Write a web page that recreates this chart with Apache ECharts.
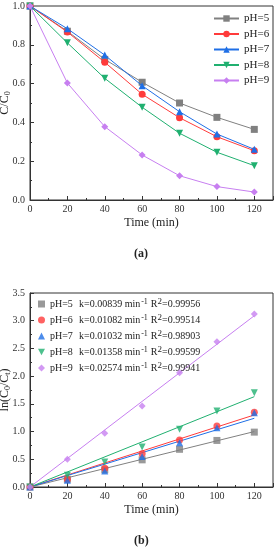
<!DOCTYPE html>
<html><head><meta charset="utf-8">
<script src="https://cdn.jsdelivr.net/npm/echarts@6/dist/echarts.min.js"></script>
<style>html,body{margin:0;padding:0;background:#fff}#c{width:278px;height:550px}</style>
</head><body><div id="c"></div>
<script>
const times = [0, 20, 40, 60, 80, 100, 120];
const phNames = ['pH=5', 'pH=6', 'pH=7', 'pH=8', 'pH=9'];
// panel (a) C/C0
const ratio5 = [1, 0.87, 0.725, 0.607, 0.50, 0.426, 0.364];
const ratio6 = [1, 0.866, 0.71, 0.545, 0.424, 0.326, 0.254];
const ratio7 = [1, 0.883, 0.747, 0.589, 0.455, 0.34, 0.261];
const ratio8 = [1, 0.81, 0.627, 0.478, 0.344, 0.246, 0.177];
const ratio9 = [1, 0.603, 0.378, 0.232, 0.125, 0.069, 0.041];
// panel (b) ln(C0/Ct)
const ln5 = [0, 0.14, 0.31, 0.49, 0.68, 0.84, 0.99];
const ln6 = [0, 0.14, 0.34, 0.60, 0.85, 1.10, 1.35];
const ln7 = [0, 0.12, 0.29, 0.55, 0.80, 1.07, 1.34];
const ln8 = [0, 0.21, 0.45, 0.72, 1.04, 1.37, 1.70];
const ln9 = [0, 0.50, 0.97, 1.46, 2.06, 2.62, 3.12];
// fitted lines (start at 0,0, end at t=120)
const fitStart = [0, 0, 0, 0, 0];
const fitEnd = [1.00, 1.30, 1.24, 1.63, 3.09];
const kValues = ['0.00839', '0.01082', '0.01032', '0.01358', '0.02574'];
const r2Values = ['0.99956', '0.99514', '0.98903', '0.99599', '0.99941'];

const colors = ['#808080', '#ff3b3b', '#1f6fe6', '#20b070', '#c77ff0'];
const symbols = ['rect', 'circle', 'triangle', 'path://M0,0 L10,0 L5,9 Z', 'diamond'];
const ratios = [ratio5, ratio6, ratio7, ratio8, ratio9];
const lns = [ln5, ln6, ln7, ln8, ln9];
const FONT = 'Liberation Serif';
const AX = '#333';

function xAxis(idx) {
  return {
    gridIndex: idx, type: 'value', min: 0, max: 130, interval: 20,
    name: 'Time (min)', nameLocation: 'middle', nameGap: 17, nameMoveOverlap: false,
    nameTextStyle: { fontFamily: FONT, fontSize: 12, color: '#222' },
    axisLine: { show: true, lineStyle: { color: AX } },
    axisTick: { show: true, inside: true, length: 4, lineStyle: { color: AX } },
    minorTick: { show: true, splitNumber: 2, length: 2, lineStyle: { color: AX } },
    axisLabel: { fontFamily: FONT, fontSize: 10, color: '#333', margin: 4, showMaxLabel: false },
    splitLine: { show: false }
  };
}
function yAxis(idx, max, interval, nameRich) {
  return {
    gridIndex: idx, type: 'value', min: 0, max: max, interval: interval,
    name: nameRich, nameLocation: 'middle', nameGap: 18, nameRotate: 90, nameMoveOverlap: false,
    nameTextStyle: { fontFamily: FONT, fontSize: 12, color: '#222',
      rich: { n: { fontFamily: FONT, fontSize: 12, color: '#222' },
              s: { fontFamily: FONT, fontSize: 8, color: '#222', padding: [6, 0, 0, 0] } } },
    axisLine: { show: true, lineStyle: { color: AX } },
    axisTick: { show: true, inside: true, length: 4, lineStyle: { color: AX } },
    minorTick: { show: true, splitNumber: 2, length: 2, lineStyle: { color: AX } },
    axisLabel: { fontFamily: FONT, fontSize: 10, color: '#333', margin: 5, formatter: v => v.toFixed(1) },
    splitLine: { show: false }
  };
}

const series = [];
phNames.forEach((n, i) => {
  series.push({
    name: n, type: 'line', xAxisIndex: 0, yAxisIndex: 0,
    data: times.map((t, j) => [t, ratios[i][j]]),
    symbol: symbols[i], symbolSize: 7, showSymbol: true,
    lineStyle: { color: colors[i], width: 1 }, itemStyle: { color: colors[i] }, z: 2 + i
  });
});
phNames.forEach((n, i) => {
  series.push({
    name: 'fit' + i, type: 'line', xAxisIndex: 1, yAxisIndex: 1,
    data: [[times[0], fitStart[i]], [times[times.length - 1], fitEnd[i]]],
    showSymbol: false, symbol: 'none', lineStyle: { color: colors[i], width: 1 }, silent: true
  });
  series.push({
    name: 'b' + n, type: 'scatter', xAxisIndex: 1, yAxisIndex: 1,
    data: times.map((t, j) => [t, lns[i][j]]),
    symbol: symbols[i], symbolSize: 7,
    itemStyle: { color: colors[i] }, z: 3 + i
  });
});

const chart = echarts.init(document.getElementById('c'), null, { renderer: 'canvas' });
chart.setOption({
  animation: false,
  backgroundColor: '#fff',
  grid: [
    { left: 30, top: 6, width: 243, height: 194, show: true, borderColor: AX, borderWidth: 1, backgroundColor: 'transparent', containLabel: false, outerBoundsMode: 'none' },
    { left: 30, top: 293, width: 243, height: 194, show: true, borderColor: AX, borderWidth: 1, backgroundColor: 'transparent', containLabel: false, outerBoundsMode: 'none' }
  ],
  xAxis: [xAxis(0), xAxis(1)],
  yAxis: [yAxis(0, 1, 0.2, '{n|C/C}{s|0}'), yAxis(1, 3.5, 0.5, '{n|ln(C}{s|0}{n|/C}{s|t}{n|)}')],
  legend: [
    {
      data: phNames, orient: 'vertical', left: 213, top: 13, itemWidth: 25, itemHeight: 8, itemGap: 4.5, padding: 0,
      textStyle: { fontFamily: FONT, fontSize: 11, color: '#222' }
    },
    {
      data: phNames.map(n => 'b' + n), orient: 'vertical', left: 38, top: 297, itemWidth: 7, itemHeight: 7, itemGap: 3, padding: 0,
      formatter: name => {
        const i = phNames.indexOf(name.slice(1));
        return '{a|' + phNames[i] + '}{b|k=' + kValues[i] + ' min}{sup|-1}{c|R}{sup2|2}{d|=' + r2Values[i] + '}';
      },
      textStyle: { fontFamily: FONT, fontSize: 10, color: '#222', lineHeight: 12,
        rich: {
          a: { fontFamily: FONT, fontSize: 10, color: '#222', width: 29 },
          b: { fontFamily: FONT, fontSize: 10, color: '#222' },
          sup: { fontFamily: FONT, fontSize: 8, color: '#222', padding: [0, 3, 5, 1] },
          c: { fontFamily: FONT, fontSize: 10, color: '#222' },
          sup2: { fontFamily: FONT, fontSize: 9, color: '#222', padding: [0, 0, 5, 0] },
          d: { fontFamily: FONT, fontSize: 10, color: '#222' }
        } }
    }
  ],
  graphic: [
    { type: 'text', left: 134, top: 248, style: { text: '(a)', fontFamily: FONT, fontSize: 12, fontWeight: 'bold', fill: '#222' } },
    { type: 'text', left: 134, top: 535, style: { text: '(b)', fontFamily: FONT, fontSize: 12, fontWeight: 'bold', fill: '#222' } }
  ],
  series: series
});
</script></body></html>
